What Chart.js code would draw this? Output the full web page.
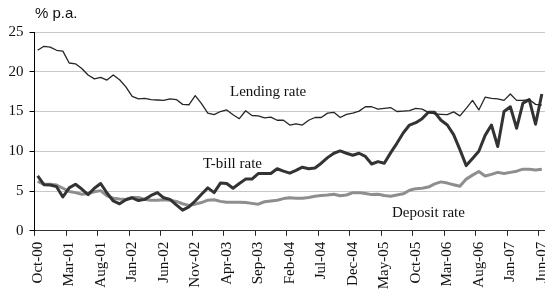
<!DOCTYPE html>
<html>
<head>
<meta charset="utf-8">
<script src="https://cdn.jsdelivr.net/npm/chart.js@4.4.0/dist/chart.umd.min.js"></script>
<style>
  html, body { margin: 0; padding: 0; background: #fff; }
  #wrap { width: 545px; height: 299px; }
</style>
</head>
<body>
<div id="wrap"><canvas id="chart" width="545" height="299"></canvas></div>
<script>
// monthly, Oct-00 .. Jun-07
const months = [
  'Oct-00', 'Nov-00', 'Dec-00',
  'Jan-01', 'Feb-01', 'Mar-01', 'Apr-01', 'May-01', 'Jun-01', 'Jul-01', 'Aug-01', 'Sep-01', 'Oct-01', 'Nov-01', 'Dec-01',
  'Jan-02', 'Feb-02', 'Mar-02', 'Apr-02', 'May-02', 'Jun-02', 'Jul-02', 'Aug-02', 'Sep-02', 'Oct-02', 'Nov-02', 'Dec-02',
  'Jan-03', 'Feb-03', 'Mar-03', 'Apr-03', 'May-03', 'Jun-03', 'Jul-03', 'Aug-03', 'Sep-03', 'Oct-03', 'Nov-03', 'Dec-03',
  'Jan-04', 'Feb-04', 'Mar-04', 'Apr-04', 'May-04', 'Jun-04', 'Jul-04', 'Aug-04', 'Sep-04', 'Oct-04', 'Nov-04', 'Dec-04',
  'Jan-05', 'Feb-05', 'Mar-05', 'Apr-05', 'May-05', 'Jun-05', 'Jul-05', 'Aug-05', 'Sep-05', 'Oct-05', 'Nov-05', 'Dec-05',
  'Jan-06', 'Feb-06', 'Mar-06', 'Apr-06', 'May-06', 'Jun-06', 'Jul-06', 'Aug-06', 'Sep-06', 'Oct-06', 'Nov-06', 'Dec-06',
  'Jan-07', 'Feb-07', 'Mar-07', 'Apr-07', 'May-07', 'Jun-07'
];

const lendingRate = [
  22.7, 23.2, 23.1, 22.7, 22.6, 21.1, 21.0, 20.4, 19.6, 19.1,
  19.3, 18.95, 19.6, 19.0, 18.1, 16.9, 16.6, 16.65, 16.5, 16.45,
  16.4, 16.6, 16.5, 15.9, 15.85, 17.0, 16.0, 14.8, 14.6, 15.0,
  15.2, 14.6, 14.1, 15.1, 14.5, 14.45, 14.2, 14.3, 13.9, 13.9,
  13.3, 13.45, 13.3, 13.9, 14.25, 14.25, 14.8, 14.9, 14.25, 14.65,
  14.8, 15.05, 15.6, 15.6, 15.3, 15.4, 15.5, 15.0, 15.05, 15.1,
  15.4, 15.3, 14.9, 14.7, 14.65, 14.6, 14.95, 14.45, 15.4, 16.4,
  15.2, 16.8, 16.65, 16.6, 16.4, 17.2, 16.4, 16.4, 16.5, 15.9,
  15.8
];

const tbillRate = [
  6.9, 5.8, 5.75, 5.55, 4.25, 5.4, 5.85, 5.25, 4.55, 5.35,
  5.95, 4.75, 3.75, 3.4, 3.9, 4.15, 3.8, 3.95, 4.45, 4.8,
  4.15, 3.95, 3.25, 2.6, 3.0, 3.75, 4.6, 5.4, 4.8, 6.0,
  5.95, 5.35, 5.95, 6.5, 6.5, 7.2, 7.2, 7.2, 7.8, 7.5,
  7.25, 7.6, 8.0, 7.8, 7.9, 8.5, 9.2, 9.75, 10.05, 9.75,
  9.5, 9.75, 9.35, 8.4, 8.7, 8.5, 9.8, 11.0, 12.3, 13.3,
  13.6, 14.1, 14.9, 14.9, 13.9, 13.3, 12.1, 10.2, 8.2, 9.1,
  10.0, 12.0, 13.3, 10.6, 15.0, 15.6, 12.9, 16.05, 16.5, 13.4,
  17.2
];

const depositRate = [
  6.2, 5.85, 5.85, 5.75, 5.35, 4.95, 4.8, 4.6, 4.7, 4.9,
  5.05, 4.4, 4.1, 4.0, 3.95, 4.2, 4.2, 3.95, 3.85, 3.85,
  3.9, 3.85, 3.7, 3.4, 3.2, 3.35, 3.55, 3.85, 3.9, 3.7,
  3.6, 3.6, 3.6, 3.55, 3.45, 3.35, 3.65, 3.75, 3.85, 4.05,
  4.15, 4.1, 4.1, 4.2, 4.35, 4.45, 4.5, 4.6, 4.4, 4.5,
  4.8, 4.8, 4.7, 4.55, 4.6, 4.45, 4.35, 4.5, 4.65, 5.1,
  5.3, 5.35, 5.5, 5.9, 6.15, 6.0, 5.8, 5.6, 6.5, 7.0,
  7.45, 6.9, 7.1, 7.35, 7.2, 7.35, 7.5, 7.75, 7.75, 7.65,
  7.75
];

const labelEvery = 5; // one month label every 5 months
const SERIF = '"Liberation Serif", "Times New Roman", serif';

// in-chart text: unit label and the three series names
const textPlugin = {
  id: 'chartText',
  afterDraw(chart) {
    const ctx = chart.ctx;
    ctx.save();
    ctx.fillStyle = '#111';
    ctx.textBaseline = 'alphabetic';
    ctx.textAlign = 'left';
    ctx.font = '15px "Liberation Sans", Arial, sans-serif';
    ctx.fillText('% p.a.', 35, 18);
    ctx.font = '15px ' + SERIF;
    ctx.fillText('Lending rate', 230, 96);
    ctx.fillText('T-bill rate', 203, 168);
    ctx.fillText('Deposit rate', 392, 217);
    ctx.restore();
  }
};

const tickMark = c => (c.index % labelEvery === 0 ? '#222' : 'rgba(0,0,0,0)');

new Chart(document.getElementById('chart'), {
  type: 'line',
  data: {
    labels: months,
    datasets: [
      { label: 'Lending rate', data: lendingRate, borderColor: '#262626', borderWidth: 1.3 },
      { label: 'T-bill rate', data: tbillRate, borderColor: '#333333', borderWidth: 3 },
      { label: 'Deposit rate', data: depositRate, borderColor: '#8e8e8e', borderWidth: 3 }
    ]
  },
  options: {
    responsive: false,
    devicePixelRatio: 1,
    animation: false,
    events: [],
    layout: { padding: { top: 32, right: 0, left: 0, bottom: 0 } },
    elements: {
      point: { radius: 0 },
      line: { tension: 0, fill: false, borderJoinStyle: 'round' }
    },
    plugins: {
      legend: { display: false },
      tooltip: { enabled: false }
    },
    scales: {
      x: {
        type: 'category',
        offset: true,
        grid: {
          offset: true,
          drawOnChartArea: false,
          tickLength: 5,
          color: tickMark,
          tickColor: tickMark
        },
        border: { color: '#333', width: 1 },
        ticks: {
          autoSkip: false,
          minRotation: 90,
          maxRotation: 90,
          padding: 6,
          color: '#111',
          font: { family: SERIF, size: 15 },
          callback: (v, i) => (i % labelEvery === 0 ? months[i] : '')
        },
        afterFit: s => { s.height = 68.2; s.paddingLeft = 0; s.paddingRight = 0; }
      },
      y: {
        min: 0,
        max: 25,
        grid: { color: '#c8c8c8', tickColor: '#000', tickLength: 5 },
        border: { color: '#000', width: 1 },
        ticks: {
          stepSize: 5,
          padding: 6,
          color: '#111',
          font: { family: SERIF, size: 15 }
        },
        afterFit: s => { s.width = 34.5; s.paddingTop = 0; s.paddingBottom = 0; }
      }
    }
  },
  plugins: [textPlugin]
});
</script>
</body>
</html>
